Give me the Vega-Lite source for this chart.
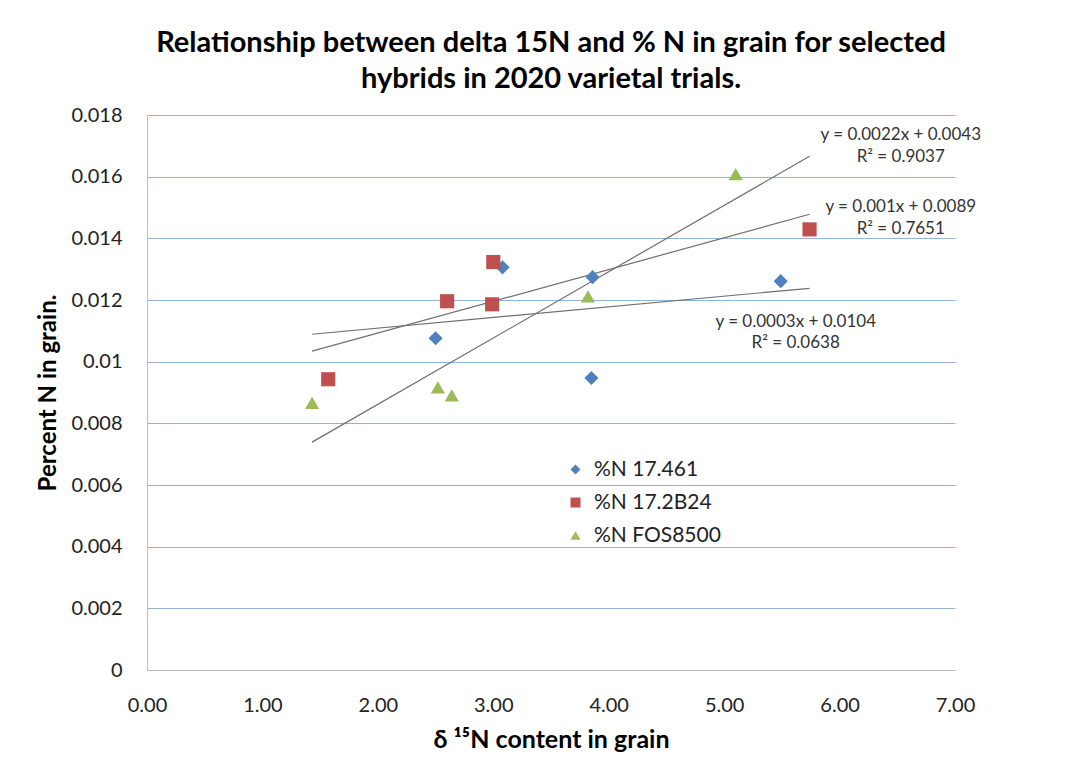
{
  "$schema": "https://vega.github.io/schema/vega-lite/v6.json",
  "width": 808,
  "height": 555,
  "autosize": {"type": "none"},
  "padding": {"left": 147, "top": 115, "right": 115, "bottom": 112},
  "background": "white",
  "config": {
    "font": "Lato",
    "view": {"stroke": null},
    "axis": {"labelFont": "Lato", "titleFont": "Lato"}
  },
  "title": {
    "text": ["Relationship between delta 15N  and % N in grain for selected", "hybrids in 2020 varietal trials."],
    "fontSize": 29,
    "fontWeight": "bold",
    "font": "Lato",
    "color": "#000000",
    "anchor": "middle",
    "lineHeight": 36,
    "offset": 11
  },
  "datasets": {
    "points": [
      {"series": "%N 17.461", "x": 2.50, "y": 0.01076},
      {"series": "%N 17.461", "x": 3.08, "y": 0.01306},
      {"series": "%N 17.461", "x": 3.86, "y": 0.01274},
      {"series": "%N 17.461", "x": 3.85, "y": 0.00947},
      {"series": "%N 17.461", "x": 5.49, "y": 0.01261},
      {"series": "%N 17.2B24", "x": 1.57, "y": 0.00943},
      {"series": "%N 17.2B24", "x": 2.60, "y": 0.01196},
      {"series": "%N 17.2B24", "x": 3.00, "y": 0.01323},
      {"series": "%N 17.2B24", "x": 2.99, "y": 0.01186},
      {"series": "%N 17.2B24", "x": 5.74, "y": 0.01429},
      {"series": "%N FOS8500", "x": 1.43, "y": 0.00866},
      {"series": "%N FOS8500", "x": 2.52, "y": 0.00917},
      {"series": "%N FOS8500", "x": 2.64, "y": 0.00891},
      {"series": "%N FOS8500", "x": 3.82, "y": 0.01212},
      {"series": "%N FOS8500", "x": 5.10, "y": 0.01608}
    ],
    "trends": [
      {"trend": "17.461", "x": 1.43, "y": 0.01089},
      {"trend": "17.461", "x": 5.74, "y": 0.01238},
      {"trend": "17.2B24", "x": 1.43, "y": 0.01034},
      {"trend": "17.2B24", "x": 5.74, "y": 0.01478},
      {"trend": "FOS8500", "x": 1.43, "y": 0.00739},
      {"trend": "FOS8500", "x": 5.74, "y": 0.01666}
    ],
    "notes": [
      {"label": "y = 0.0022x + 0.0043", "x": 6.53, "y": 0.01734},
      {"label": "R² = 0.9037", "x": 6.53, "y": 0.01663},
      {"label": "y = 0.001x + 0.0089", "x": 6.53, "y": 0.01501},
      {"label": "R² = 0.7651", "x": 6.53, "y": 0.01429},
      {"label": "y = 0.0003x + 0.0104", "x": 5.62, "y": 0.01128},
      {"label": "R² = 0.0638", "x": 5.62, "y": 0.01060}
    ]
  },
  "encoding": {
    "x": {
      "field": "x",
      "type": "quantitative",
      "scale": {"domain": [0, 7], "nice": false, "zero": false},
      "axis": {
        "title": "δ ¹⁵N content in grain",
        "values": [0, 1, 2, 3, 4, 5, 6, 7],
        "format": ".2f",
        "grid": false,
        "ticks": false,
        "labelFlush": false,
        "labelOverlap": false,
        "domainColor": "#bfbfbf",
        "labelFontSize": 20,
        "labelColor": "#222222",
        "labelPadding": 25,
        "titleFontSize": 25,
        "titleFontWeight": "bold",
        "titleColor": "#000000",
        "titlePadding": 12
      }
    },
    "y": {
      "field": "y",
      "type": "quantitative",
      "scale": {"domain": [0, 0.018], "nice": false, "zero": false},
      "axis": {
        "title": "Percent N in grain.",
        "values": [0, 0.002, 0.004, 0.006, 0.008, 0.01, 0.012, 0.014, 0.016, 0.018],
        "format": ".3~f",
        "grid": true,
        "gridColor": "#95b3d7",
        "gridWidth": 1.2,
        "ticks": false,
        "labelFlush": false,
        "labelOverlap": false,
        "domainColor": "#bfbfbf",
        "labelFontSize": 20,
        "labelColor": "#222222",
        "labelPadding": 25,
        "titleFontSize": 24,
        "titleFontWeight": "bold",
        "titleColor": "#000000",
        "titlePadding": 10
      }
    }
  },
  "layer": [
    {
      "data": {"name": "trends"},
      "mark": {"type": "line", "color": "#6f6f6f", "strokeWidth": 1.2},
      "encoding": {"detail": {"field": "trend"}}
    },
    {
      "data": {"name": "points"},
      "mark": {"type": "point", "filled": true, "opacity": 1, "size": 200},
      "encoding": {
        "color": {
          "field": "series",
          "type": "nominal",
          "scale": {"domain": ["%N 17.461", "%N 17.2B24", "%N FOS8500"], "range": ["#4f81bd", "#c0504d", "#9bbb59"]},
          "legend": {
            "title": null,
            "orient": "none",
            "legendX": 418,
            "legendY": 344,
            "labelFontSize": 21,
            "labelFont": "Lato",
            "labelColor": "#222222",
            "symbolSize": 100,
            "symbolOpacity": 1,
            "labelOffset": 8,
            "rowPadding": 11,
            "symbolStrokeWidth": 0
          }
        },
        "shape": {
          "field": "series",
          "type": "nominal",
          "scale": {"domain": ["%N 17.461", "%N 17.2B24", "%N FOS8500"], "range": ["diamond", "square", "triangle-up"]}
        }
      }
    },
    {
      "data": {"name": "notes"},
      "mark": {"type": "text", "fontSize": 17, "font": "Lato", "color": "#333333", "align": "center", "baseline": "middle"},
      "encoding": {"text": {"field": "label"}}
    }
  ]
}
